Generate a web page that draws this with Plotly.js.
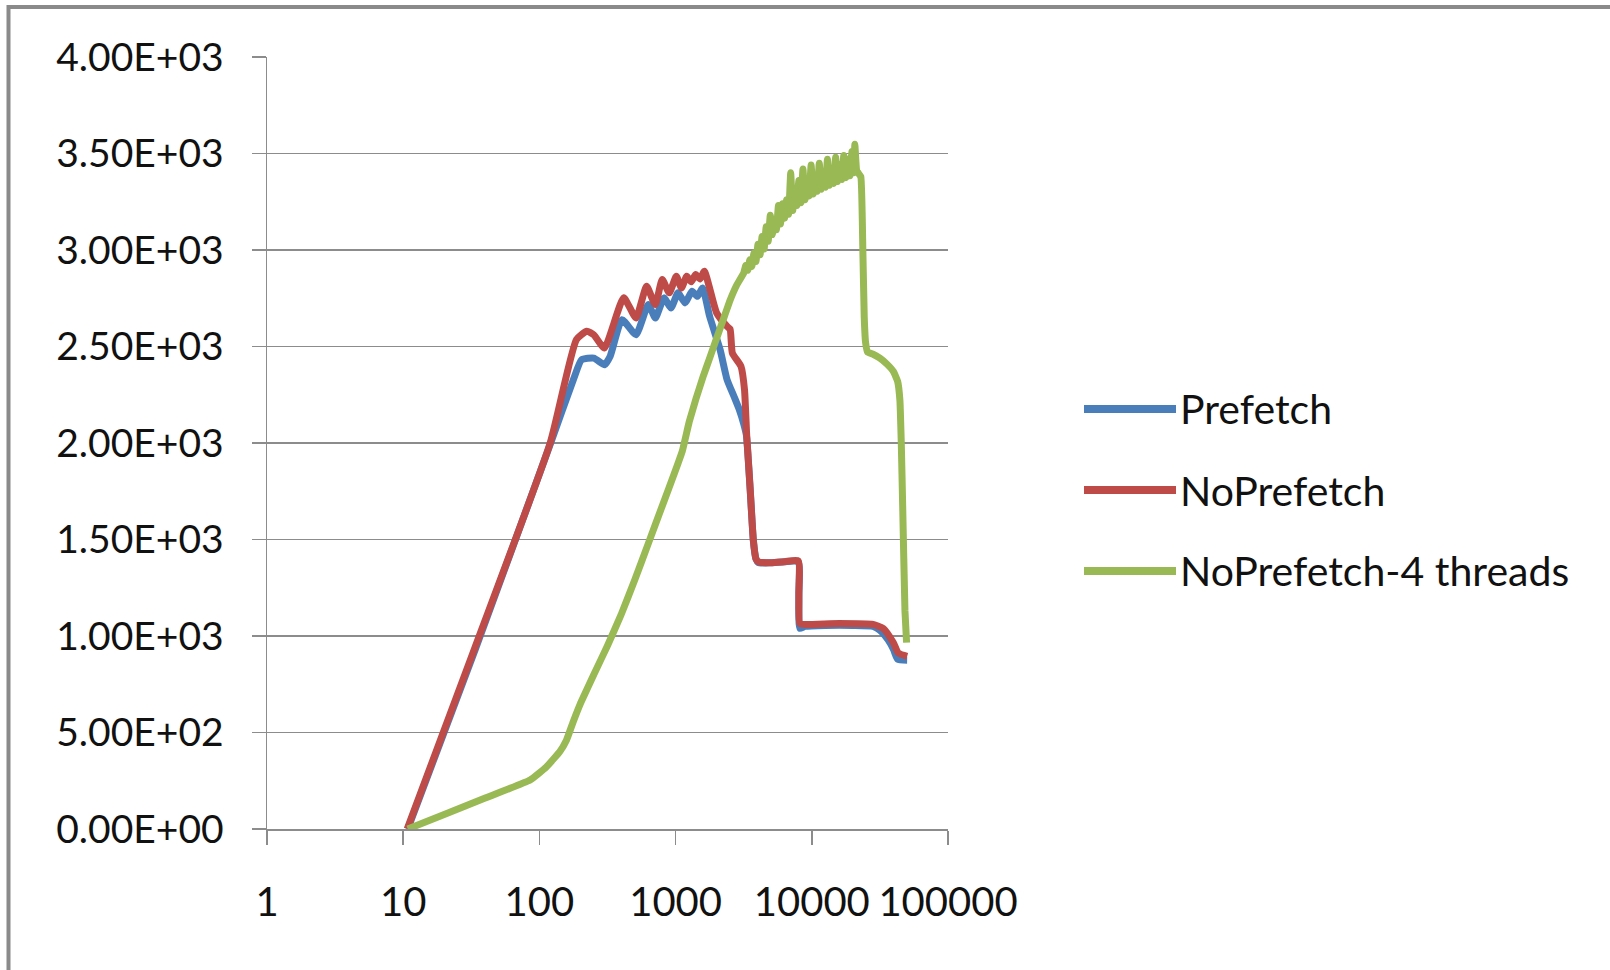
<!DOCTYPE html>
<html>
<head>
<meta charset="utf-8">
<script src="https://cdn.plot.ly/plotly-3.0.1.min.js"></script>
<style>
  html, body { margin: 0; padding: 0; background: #ffffff; }
  #chart { width: 1610px; height: 970px; }
</style>
</head>
<body>
<div id="chart"></div>
<script>
// ---------------- data ----------------
const seriesNames = ["Prefetch", "NoPrefetch", "NoPrefetch-4 threads"];
const seriesColors = ["#4A7EBB", "#BE4B48", "#98B954"];

const prefetchX = [10.8, 33.8, 121, 178, 204, 251, 301, 331, 404, 512, 630, 710, 822, 925, 1042, 1172, 1321, 1445, 1578, 1778, 2123, 2388, 2685, 2938, 3162, 3311, 3524, 3724, 3890, 4055, 5012, 6310, 7943, 8035, 8166, 8913, 12590, 19950, 28180, 31620, 36310, 39810, 42660, 50120];
const prefetchY = [0, 930, 2000, 2330, 2431, 2440, 2405, 2450, 2639, 2561, 2717, 2648, 2752, 2700, 2778, 2726, 2786, 2760, 2803, 2656, 2483, 2328, 2241, 2172, 2100, 2040, 1766, 1494, 1400, 1380, 1380, 1385, 1385, 1200, 1040, 1050, 1055, 1055, 1050, 1030, 980, 930, 880, 875];

const noPrefetchX = [10.7, 33.5, 120, 187, 223, 251, 300, 416, 512, 612, 709, 798, 898, 1012, 1104, 1208, 1303, 1403, 1514, 1626, 2000, 2388, 2512, 2612, 3020, 3206, 3327, 3524, 3724, 3890, 4055, 5012, 6310, 7943, 8035, 8166, 8913, 15850, 28180, 33500, 39630, 43150, 50120];
const noPrefetchY = [0, 937, 2000, 2536, 2579, 2560, 2492, 2752, 2648, 2812, 2717, 2847, 2778, 2864, 2803, 2864, 2835, 2873, 2850, 2890, 2674, 2604, 2590, 2466, 2397, 2276, 2039, 1766, 1494, 1400, 1384, 1380, 1385, 1390, 1220, 1065, 1060, 1065, 1060, 1039, 966, 912, 895];

const threadsX = [10.8, 20, 40, 85.5, 112, 141, 158, 178, 200, 251, 316, 398, 501, 631, 794, 1000, 1122, 1259, 1413, 1585, 1778, 1995, 2239, 2512, 2818,
  3162, 3273, 3388, 3508, 3631, 3758, 3890, 4027, 4169, 4315, 4467, 4624, 4786, 4955, 5129, 5309, 5495, 5689, 5888, 6095, 6310, 6531, 6761, 6998, 7244, 7499, 7762, 8035, 8318, 8610, 8913, 9226, 9550, 9886,
  10233, 10593, 10965, 11350, 11749, 12162, 12589, 13032, 13490, 13964, 14454, 14962, 15488, 16032, 16596, 17179, 17783, 18408, 19055, 19724, 20417, 20701, 21380, 22900, 23700, 24270, 24830, 25700, 28184, 31623, 35481, 39811, 42658, 44361, 45394, 46452, 48306, 49659];
const threadsY = [0, 75, 160, 254, 320, 400, 460, 560, 650, 800, 950, 1110, 1290, 1480, 1670, 1860, 1960, 2110, 2230, 2340, 2440, 2540, 2640, 2740, 2820,
  2880, 2920, 2895, 2950, 2915, 2985, 2940, 3030, 2975, 3070, 3005, 3120, 3045, 3180, 3080, 3150, 3105, 3230, 3135, 3240, 3165, 3260, 3185, 3400, 3205, 3300, 3230, 3360, 3245, 3420, 3260, 3350, 3280, 3440,
  3290, 3380, 3305, 3450, 3315, 3400, 3325, 3470, 3335, 3420, 3345, 3480, 3355, 3440, 3365, 3490, 3375, 3470, 3385, 3510, 3400, 3548, 3410, 3380, 3000, 2650, 2520, 2470, 2460, 2440, 2410, 2370, 2320, 2220, 2000, 1680, 1130, 966];

const xTickVals = [1, 10, 100, 1000, 10000, 100000];
const xTickText = ["1", "10", "100", "1000", "10000", "100000"];
const yTickVals = [0, 500, 1000, 1500, 2000, 2500, 3000, 3500, 4000];
const yTickText = ["0.00E+00", "5.00E+02", "1.00E+03", "1.50E+03", "2.00E+03", "2.50E+03", "3.00E+03", "3.50E+03", "4.00E+03"];

// ---------------- layout helpers ----------------
const W = 1610, H = 970;
const M = { l: 267, r: 662, t: 57, b: 141 };
const PW = W - M.l - M.r, PH = H - M.t - M.b;
const px = v => (v - M.l) / PW;           // pixel x -> paper x
const py = v => (H - M.b - v) / PH;       // pixel y -> paper y

const FONT = "Lato, 'Open Sans', sans-serif";
const GRID = "#8c8c8c";
const LW = 7;

const xs = [prefetchX, noPrefetchX, threadsX];
const ys = [prefetchY, noPrefetchY, threadsY];
const smooth = [0.5, 0.5, 0.3];

const traces = seriesNames.map((name, i) => ({
  type: "scatter",
  mode: "lines",
  name: name,
  x: xs[i],
  y: ys[i],
  line: { color: seriesColors[i], width: LW, shape: "spline", smoothing: smooth[i] },
  showlegend: false,
  hoverinfo: "skip"
}));

// custom legend (long keys like the original)
const legendRows = [409, 490, 571];
const shapes = [
  { type: "rect", xref: "paper", yref: "paper",
    x0: px(8.5), x1: px(1640), y0: py(1000), y1: py(7),
    line: { color: "#8a8a8a", width: 4 }, fillcolor: "rgba(0,0,0,0)", layer: "above" }
];
const annotations = [];
seriesNames.forEach((name, i) => {
  shapes.push({ type: "line", xref: "paper", yref: "paper",
    x0: px(1084), x1: px(1176), y0: py(legendRows[i]), y1: py(legendRows[i]),
    line: { color: seriesColors[i], width: 8 } });
  annotations.push({ xref: "paper", yref: "paper", x: px(1178), y: py(legendRows[i]),
    xanchor: "left", yanchor: "middle", showarrow: false, text: name,
    font: { family: FONT, size: 41, color: "#111111" } });
});

const layout = {
  width: W, height: H,
  margin: { l: M.l, r: M.r, t: M.t, b: M.b, pad: 0 },
  paper_bgcolor: "#ffffff",
  plot_bgcolor: "#ffffff",
  showlegend: false,
  xaxis: {
    type: "log", range: [0, 5],
    tickmode: "array", tickvals: xTickVals, ticktext: xTickText,
    showgrid: false, zeroline: false,
    showline: true, linecolor: GRID, linewidth: 1.5,
    ticks: "outside", ticklen: 14, tickwidth: 1.5, tickcolor: GRID,
    ticklabelstandoff: 23,
    tickfont: { family: FONT, size: 40, color: "#111111" },
    fixedrange: true
  },
  yaxis: {
    range: [0, 4000],
    tickmode: "array", tickvals: yTickVals, ticktext: yTickText,
    showgrid: true, gridcolor: GRID, gridwidth: 1.5,
    zeroline: false,
    showline: true, linecolor: GRID, linewidth: 1.5,
    ticks: "outside", ticklen: 14, tickwidth: 1.5, tickcolor: GRID,
    ticklabelstandoff: 20,
    tickfont: { family: FONT, size: 39, color: "#111111" },
    fixedrange: true
  },
  shapes: shapes,
  annotations: annotations
};

Plotly.newPlot("chart", traces, layout, { displayModeBar: false, staticPlot: true });
</script>
</body>
</html>
